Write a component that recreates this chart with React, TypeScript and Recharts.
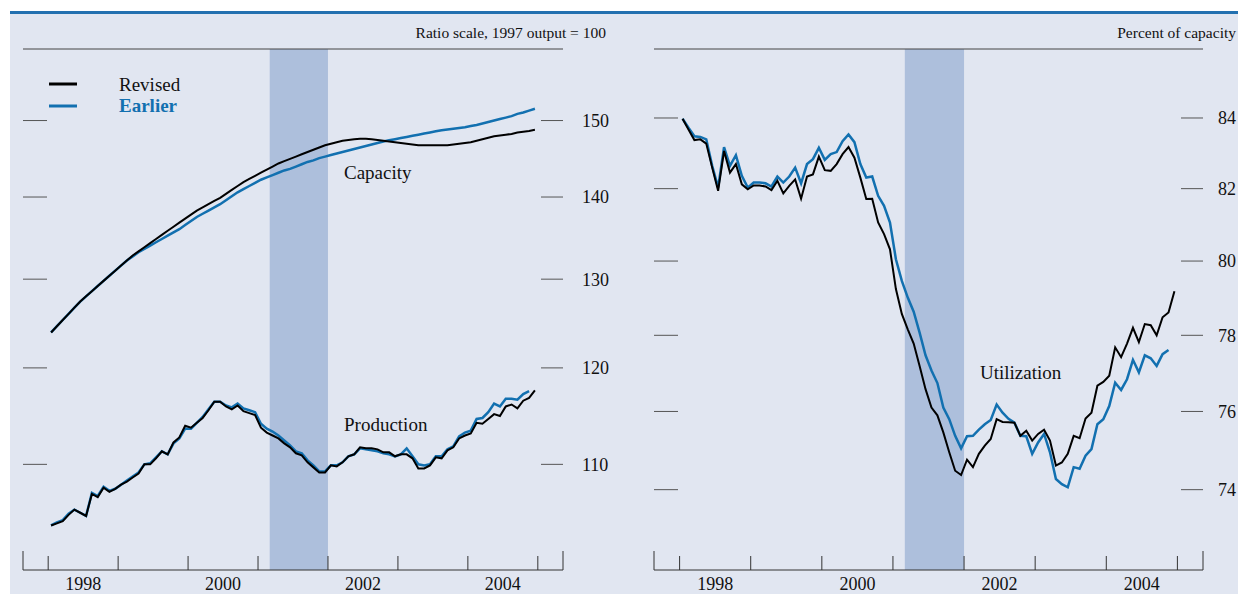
import React from "react";
import { LineChart, Line, XAxis, YAxis, ReferenceArea, ReferenceLine } from "recharts";

const FONT = '"Liberation Serif", "Times New Roman", Times, serif';
const BLUE = "#1270B0";
const BLACK = "#000000";
const PANEL_BG = "#E1E6F1";
const SHADE = "#ADBFDC";

// monthly, Jan 1998 onward
const FIRST_YEAR = 1998;

const capacityRevised = [
  123.9, 124.6, 125.3, 126.0, 126.7, 127.4, 128.0, 128.6, 129.2, 129.8, 130.4, 131.0,
  131.6, 132.2, 132.8, 133.3, 133.8, 134.3, 134.8, 135.3, 135.8, 136.3, 136.8, 137.3,
  137.8, 138.3, 138.7, 139.1, 139.5, 139.9, 140.4, 140.9, 141.4, 141.9, 142.3, 142.7,
  143.1, 143.5, 143.9, 144.3, 144.6, 144.9, 145.2, 145.5, 145.8, 146.1, 146.4, 146.7,
  146.9, 147.1, 147.3, 147.4, 147.5, 147.55, 147.55, 147.5, 147.4, 147.3, 147.2, 147.1,
  147.0, 146.9, 146.8, 146.7, 146.7, 146.7, 146.7, 146.7, 146.7, 146.8, 146.9, 147.0,
  147.1, 147.3, 147.5, 147.7, 147.9, 148.0, 148.1, 148.2, 148.4, 148.5, 148.6, 148.75,
];

const capacityEarlier = [
  123.9, 124.6, 125.3, 126.0, 126.7, 127.4, 128.0, 128.6, 129.2, 129.8, 130.4, 131.0,
  131.6, 132.2, 132.7, 133.2, 133.6, 134.0, 134.4, 134.8, 135.2, 135.6, 136.0, 136.5,
  137.0, 137.5, 137.9, 138.3, 138.7, 139.1, 139.6, 140.1, 140.6, 141.0, 141.4, 141.8,
  142.2, 142.5, 142.8, 143.1, 143.4, 143.6, 143.9, 144.2, 144.5, 144.7, 145.0, 145.2,
  145.4, 145.6, 145.8, 146.0, 146.2, 146.4, 146.6, 146.8, 147.0, 147.2, 147.35, 147.5,
  147.65, 147.8, 147.95, 148.1, 148.25, 148.4, 148.55, 148.7, 148.8, 148.9, 149.0, 149.1,
  149.25, 149.4, 149.6, 149.8, 150.0, 150.2, 150.4, 150.6, 150.9, 151.1, 151.35, 151.6,
];

const productionRevised = [
  104.1, 104.3, 104.5, 105.1, 105.6, 105.3, 105.0, 107.1, 106.8, 107.7, 107.3, 107.6,
  108.0, 108.3, 108.7, 109.1, 110.0, 110.0, 110.6, 111.3, 111.0, 112.2, 112.7, 113.9,
  113.7, 114.2, 114.7, 115.5, 116.4, 116.4, 115.9, 115.6, 116.0, 115.4, 115.2, 115.0,
  113.7, 113.2, 112.9, 112.6, 112.1, 111.7, 111.1, 110.9, 110.2, 109.7, 109.2, 109.2,
  109.9, 109.8, 110.2, 110.8, 111.0, 111.7, 111.6, 111.6, 111.5, 111.2, 111.2, 110.8,
  111.0, 111.0, 110.6, 109.6, 109.6, 109.9, 110.7, 110.6, 111.4, 111.7, 112.6, 112.9,
  113.1, 114.2, 114.1, 114.6, 115.1, 114.9, 115.9, 116.1, 115.7, 116.5, 116.8, 117.6,
];

const productionEarlier = [
  104.1, 104.4, 104.6, 105.2, 105.6, 105.3, 105.0, 107.2, 106.9, 107.8, 107.4, 107.6,
  108.0, 108.4, 108.8, 109.2, 110.0, 110.1, 110.7, 111.3, 111.0, 112.1, 112.6, 113.6,
  113.6, 114.2, 114.8, 115.6, 116.4, 116.4, 116.0, 115.8, 116.2, 115.7, 115.5, 115.3,
  114.1, 113.6, 113.3, 112.9, 112.4, 111.9, 111.3, 111.1, 110.4, 109.9, 109.3, 109.3,
  109.9, 109.9, 110.2, 110.8, 111.0, 111.6, 111.5, 111.4, 111.3, 111.1, 111.0, 110.8,
  111.0, 111.6, 110.8, 110.0, 109.9, 110.0, 110.8, 110.8, 111.5, 111.8, 112.8, 113.2,
  113.4, 114.6, 114.7, 115.3, 116.2, 115.9, 116.7, 116.7, 116.6, 117.2, 117.5,
];

const utilizationRevised = [
  83.98, 83.67, 83.37, 83.39, 83.27, 82.59, 81.94, 83.06, 82.45, 82.69, 82.12, 81.98,
  82.09, 82.09, 82.06, 81.96, 82.22, 81.87, 82.08, 82.26, 81.72, 82.34, 82.4, 82.9,
  82.52, 82.5, 82.69, 82.97, 83.17, 82.87, 82.31, 81.71, 81.72, 81.06, 80.74, 80.32,
  79.24, 78.57, 78.16, 77.78, 77.19, 76.58, 76.1, 75.9, 75.46, 74.95, 74.48, 74.37,
  74.76, 74.57, 74.91, 75.12, 75.29, 75.8, 75.73, 75.72, 75.71, 75.37, 75.5, 75.25,
  75.42, 75.53, 75.25, 74.61, 74.69, 74.91, 75.37, 75.31, 75.82, 75.97, 76.67, 76.77,
  76.93, 77.68, 77.42, 77.78, 78.2, 77.82, 78.3, 78.27, 78.0, 78.48, 78.61, 79.18,
];

const utilizationEarlier = [
  83.98, 83.72, 83.48, 83.46, 83.39, 82.64, 82.03, 83.17, 82.64, 82.94, 82.36, 82.03,
  82.17, 82.17, 82.15, 82.06, 82.34, 82.17, 82.34, 82.59, 82.15, 82.69, 82.83, 83.15,
  82.81, 82.97, 83.03, 83.34, 83.53, 83.31, 82.69, 82.31, 82.34, 81.8, 81.52, 81.06,
  80.05, 79.46, 79.01, 78.63, 78.07, 77.47, 77.07, 76.74, 76.1, 75.8, 75.37, 75.05,
  75.36, 75.37, 75.53, 75.67, 75.78, 76.18, 75.97, 75.81, 75.71, 75.37, 75.36, 74.91,
  75.2, 75.42, 74.95, 74.27, 74.14, 74.06, 74.57, 74.53, 74.86, 75.03, 75.67, 75.8,
  76.14, 76.75, 76.56, 76.84, 77.35, 77.02, 77.47, 77.39, 77.19, 77.5, 77.61,
];

const X_DOMAIN: [number, number] = [1997.64, 2005.36];
const yearTicks = [1998, 1999, 2000, 2001, 2002, 2003, 2004, 2005];
const yearLabels = [1998, 2000, 2002, 2004];
const RECESSION: [number, number] = [2001.167, 2002.0];

const ratioDomain: [number, number] = [100, 160];
const ratioTicks = [110, 120, 130, 140, 150];
const pctDomain: [number, number] = [72, 86];
const pctTicks = [74, 76, 78, 80, 82, 84];

const xTicks = [X_DOMAIN[0], ...yearTicks, X_DOMAIN[1], ...yearLabels.map((y) => y + 0.5)].sort(
  (a, b) => a - b
);

type Pt = { t: number; v: number };
const toSeries = (vals: number[]): Pt[] =>
  vals.map((v, i) => ({ t: FIRST_YEAR + (i + 0.5) / 12, v }));

function YearTick(props: any) {
  const { x, y, payload } = props;
  const v: number = payload.value;
  const edge = v === X_DOMAIN[0] || v === X_DOMAIN[1];
  if (!edge && v % 1 !== 0) {
    return (
      <text x={x} y={y + 20} textAnchor="middle" fontSize={18} fontFamily={FONT} fill="#111">
        {Math.floor(v)}
      </text>
    );
  }
  return <line x1={x} x2={x} y1={y} y2={y - (edge ? 19 : 14)} stroke="#333" />;
}

// left side: only the short inner tick mark, no label
const NoLabel = () => <g />;

type SeriesDef = { key: string; data: Pt[]; color: string; width: number };

function Panel({
  width,
  padLeft,
  axisRight,
  labelGap,
  yDomain,
  yTicks,
  lines,
}: {
  width: number;
  padLeft: number;
  axisRight: number;
  labelGap: number;
  yDomain: [number, number];
  yTicks: number[];
  lines: SeriesDef[];
}) {
  return (
    <LineChart width={width} height={594} margin={{ top: 49, right: 0, bottom: 0, left: padLeft }}>
      <XAxis
        xAxisId="x"
        type="number"
        dataKey="t"
        domain={X_DOMAIN}
        ticks={xTicks}
        interval={0}
        allowDataOverflow
        height={24}
        tickSize={0}
        tickMargin={0}
        tickLine={false}
        axisLine={{ stroke: "#333" }}
        tick={<YearTick />}
      />
      <YAxis
        yAxisId="l"
        orientation="left"
        width={1}
        type="number"
        scale="log"
        domain={yDomain}
        ticks={yTicks}
        interval={0}
        allowDataOverflow
        tickSize={-24}
        tickLine={{ stroke: "#555" }}
        axisLine={false}
        tick={<NoLabel />}
      />
      <YAxis
        yAxisId="r"
        orientation="right"
        width={axisRight}
        type="number"
        scale="log"
        domain={yDomain}
        ticks={yTicks}
        interval={0}
        allowDataOverflow
        tickSize={-22}
        tickMargin={labelGap}
        tickLine={{ stroke: "#555" }}
        axisLine={false}
        tick={{ fill: "#111", fontSize: 18, fontFamily: FONT }}
      />
      <ReferenceArea
        xAxisId="x"
        yAxisId="r"
        x1={RECESSION[0]}
        x2={RECESSION[1]}
        fill={SHADE}
        fillOpacity={1}
        stroke="none"
      />
      <ReferenceLine xAxisId="x" yAxisId="r" y={yDomain[1]} stroke="#444" />
      {lines.map((l) => (
        <Line
          key={l.key}
          xAxisId="x"
          yAxisId="r"
          data={l.data}
          dataKey="v"
          type="linear"
          stroke={l.color}
          strokeWidth={l.width}
          dot={false}
          activeDot={false}
          isAnimationActive={false}
        />
      ))}
    </LineChart>
  );
}

export default function App() {
  const leftLines: SeriesDef[] = [
    { key: "capE", data: toSeries(capacityEarlier), color: BLUE, width: 2.5 },
    { key: "capR", data: toSeries(capacityRevised), color: BLACK, width: 2 },
    { key: "prodE", data: toSeries(productionEarlier), color: BLUE, width: 2.5 },
    { key: "prodR", data: toSeries(productionRevised), color: BLACK, width: 2 },
  ];
  const rightLines: SeriesDef[] = [
    { key: "utilE", data: toSeries(utilizationEarlier), color: BLUE, width: 2.5 },
    { key: "utilR", data: toSeries(utilizationRevised), color: BLACK, width: 2 },
  ];

  return (
    <div
      style={{
        position: "absolute",
        left: 0,
        top: 0,
        width: 1238,
        height: 594,
        background: "#fff",
        overflow: "hidden",
        fontFamily: FONT,
      }}
    >
      <div style={{ position: "absolute", left: 10, top: 14, width: 1228, height: 580, background: PANEL_BG }} />
      <div style={{ position: "absolute", left: 10, top: 11, width: 1228, height: 3, background: "#2270B0" }} />
      <div style={{ position: "absolute", left: 0, top: 0 }}>
        <Panel
          width={620}
          padLeft={22}
          axisRight={57}
          labelGap={41}
          yDomain={ratioDomain}
          yTicks={ratioTicks}
          lines={leftLines}
        />
      </div>
      <div style={{ position: "absolute", left: 620, top: 0 }}>
        <Panel
          width={618}
          padLeft={33}
          axisRight={35}
          labelGap={37}
          yDomain={pctDomain}
          yTicks={pctTicks}
          lines={rightLines}
        />
      </div>
      <svg
        width={1238}
        height={594}
        style={{ position: "absolute", left: 0, top: 0, pointerEvents: "none" }}
        fontFamily={FONT}
      >
        <text x={606} y={38} textAnchor="end" fontSize={15.5} fill="#111">
          Ratio scale, 1997 output = 100
        </text>
        <text x={1236} y={38} textAnchor="end" fontSize={15.5} fill="#111">
          Percent of capacity
        </text>
        <line x1={49} x2={77} y1={84} y2={84} stroke={BLACK} strokeWidth={3} />
        <text x={119} y={91} fontSize={19} fill="#111">
          Revised
        </text>
        <line x1={49} x2={77} y1={106} y2={106} stroke={BLUE} strokeWidth={3} />
        <text x={119} y={112} fontSize={19} fill={BLUE} fontWeight="bold">
          Earlier
        </text>
        <text x={344} y={179} fontSize={19} fill="#111">
          Capacity
        </text>
        <text x={344} y={431} fontSize={19} fill="#111">
          Production
        </text>
        <text x={980} y={379} fontSize={19} fill="#111">
          Utilization
        </text>
      </svg>
    </div>
  );
}
